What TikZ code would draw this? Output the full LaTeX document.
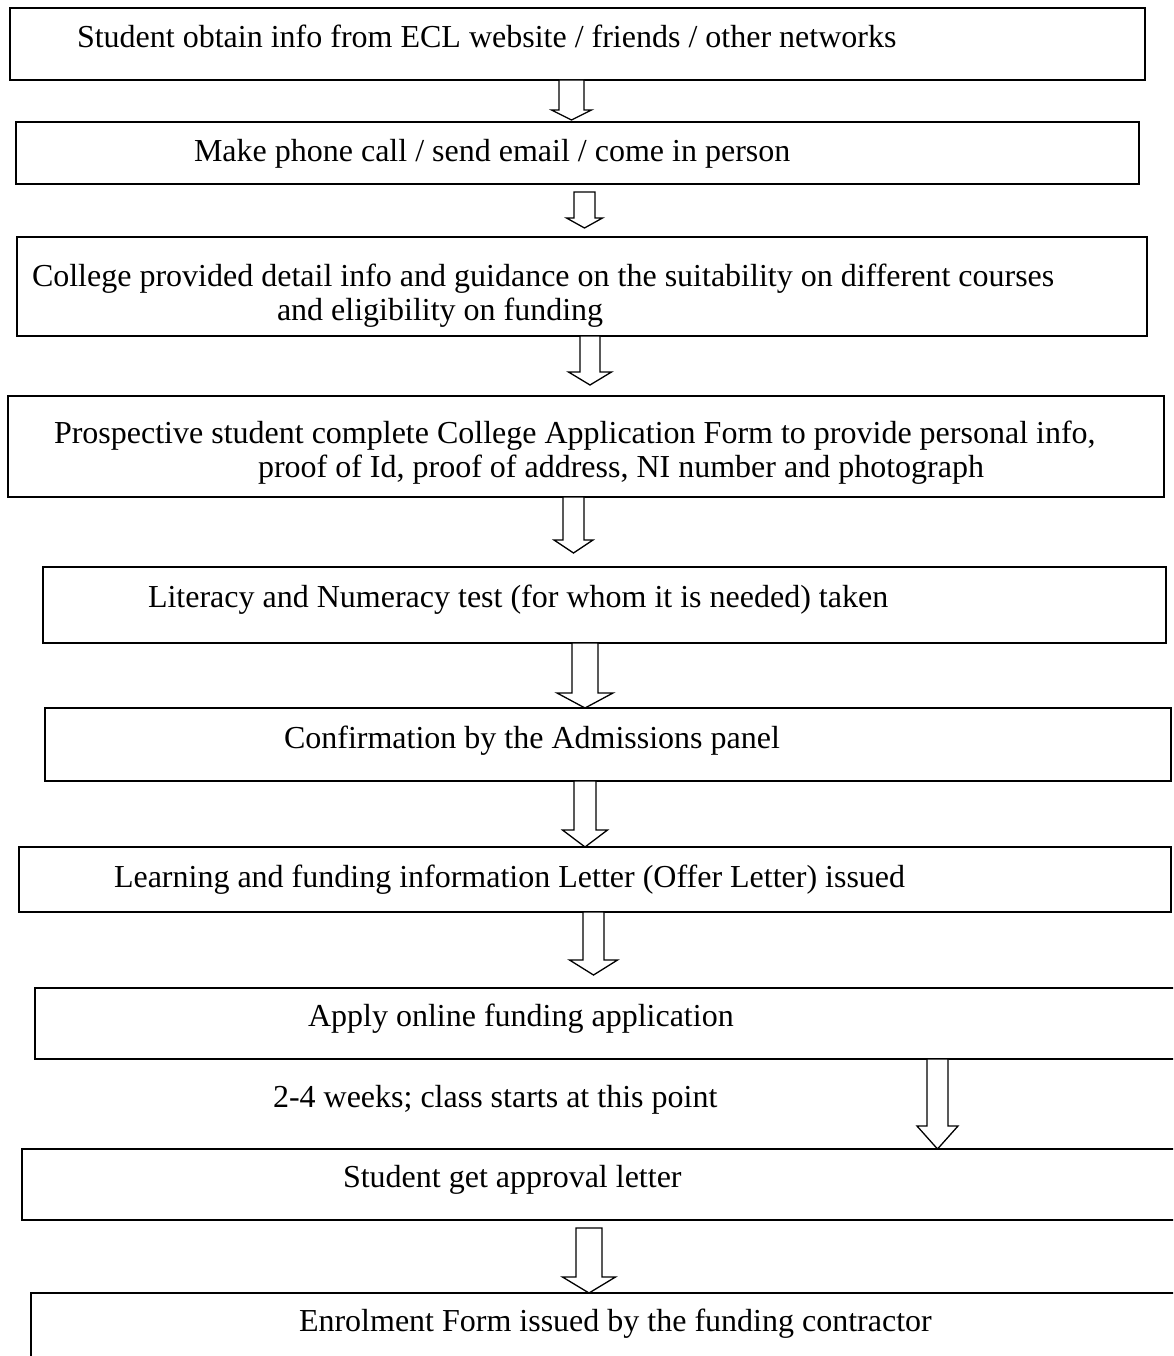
\documentclass[tikz,border=0pt]{standalone}
\usepackage{fontspec}
\setmainfont{Liberation Serif}
\usetikzlibrary{calc}
\tikzset{
  box/.style={draw=black, line width=1.8pt, rectangle, inner sep=0pt, outer sep=0pt, anchor=north west},
  txt/.style={inner sep=0pt, outer sep=0pt, anchor=base west, font=\fontsize{32}{38}\selectfont, text=black},
  barrow/.style={draw=black, line width=1.3pt, line join=miter, fill=white}
}
% #1 x centre, #2 upper node, #3 lower node, #4 half shaft, #5 half head,
% #6 head length, #7 gap below upper node, #8 gap above lower node
\newcommand{\blockarr}[8]{%
  \draw[barrow] let \p1=(#2.south), \p2=(#3.north) in
    ({(#1-#4)*1pt}, {\y1-#7pt}) -- ({(#1-#4)*1pt}, {\y2+#8pt+#6pt})
    -- ({(#1-#5)*1pt}, {\y2+#8pt+#6pt}) -- ({#1*1pt}, {\y2+#8pt})
    -- ({(#1+#5)*1pt}, {\y2+#8pt+#6pt}) -- ({(#1+#4)*1pt}, {\y2+#8pt+#6pt})
    -- ({(#1+#4)*1pt}, {\y1-#7pt}) -- cycle;}
\begin{document}
\begin{tikzpicture}[x=1pt, y=-1pt]
\useasboundingbox (0,0) rectangle (1173,1356);
\clip (0,0) rectangle (1173,1356);
\fill[white] (0,0) rectangle (1173,1356);

% boxes
\node[box, minimum width=1135pt, minimum height=72pt]  (b1)  at (10,8) {};
\node[box, minimum width=1123pt, minimum height=62pt]  (b2)  at (16,122) {};
\node[box, minimum width=1130pt, minimum height=99pt]  (b3)  at (17,237) {};
\node[box, minimum width=1156pt, minimum height=101pt] (b4)  at (8,396) {};
\node[box, minimum width=1123pt, minimum height=76pt]  (b5)  at (43,567) {};
\node[box, minimum width=1126pt, minimum height=73pt]  (b6)  at (45,708) {};
\node[box, minimum width=1152pt, minimum height=65pt]  (b7)  at (19,847) {};
\node[box, minimum width=1150pt, minimum height=71pt]  (b8)  at (35,988) {};
\node[box, minimum width=1163pt, minimum height=71pt]  (b9)  at (22,1149) {};
\node[box, minimum width=1154pt, minimum height=107pt] (b10) at (31,1293) {};

% texts
\node[txt] (t1)  at (77,48)   {Student obtain info from ECL website / friends / other networks};
\node[txt] (t2)  at (194,162) {Make phone call / send email / come in person};
\node[txt] (t3a) at (32,286)  {College provided detail info and guidance on the suitability on different courses};
\node[txt] (t3b) at (277,320) {and eligibility on funding};
\node[txt] (t4a) at (54,443)  {Prospective student complete College Application Form to provide personal info,};
\node[txt] (t4b) at (258,477) {proof of Id, proof of address, NI number and photograph};
\node[txt] (t5)  at (148,607) {Literacy and Numeracy test (for whom it is needed) taken};
\node[txt] (t6)  at (284,748) {Confirmation by the Admissions panel};
\node[txt] (t7)  at (114,887) {Learning and funding information Letter (Offer Letter) issued};
\node[txt] (t8)  at (308,1026) {Apply online funding application};
\node[txt] (t9)  at (273,1107) {2-4 weeks; class starts at this point};
\node[txt] (t10) at (343,1187) {Student get approval letter};
\node[txt] (t11) at (299,1331) {Enrolment Form issued by the funding contractor};

% block arrows
\blockarr{571.5}{b1}{b2}{12.5}{20}{10}{0}{2}
\blockarr{584.5}{b2}{b3}{10.5}{18}{10}{8}{9}
\blockarr{590}{b3}{b4}{10}{21.5}{13}{0}{11}
\blockarr{573.5}{b4}{b5}{10.5}{19.5}{13}{0}{14}
\blockarr{585}{b5}{b6}{13}{28}{15}{0}{0}
\blockarr{585}{b6}{b7}{11}{22.5}{17}{0}{0}
\blockarr{593.5}{b7}{b8}{10.5}{24}{15}{0}{13}
\blockarr{937.5}{b8}{b9}{10.5}{20.5}{23}{0}{0}
\blockarr{589}{b9}{b10}{13}{26.5}{16}{8}{0}
\end{tikzpicture}
\end{document}
